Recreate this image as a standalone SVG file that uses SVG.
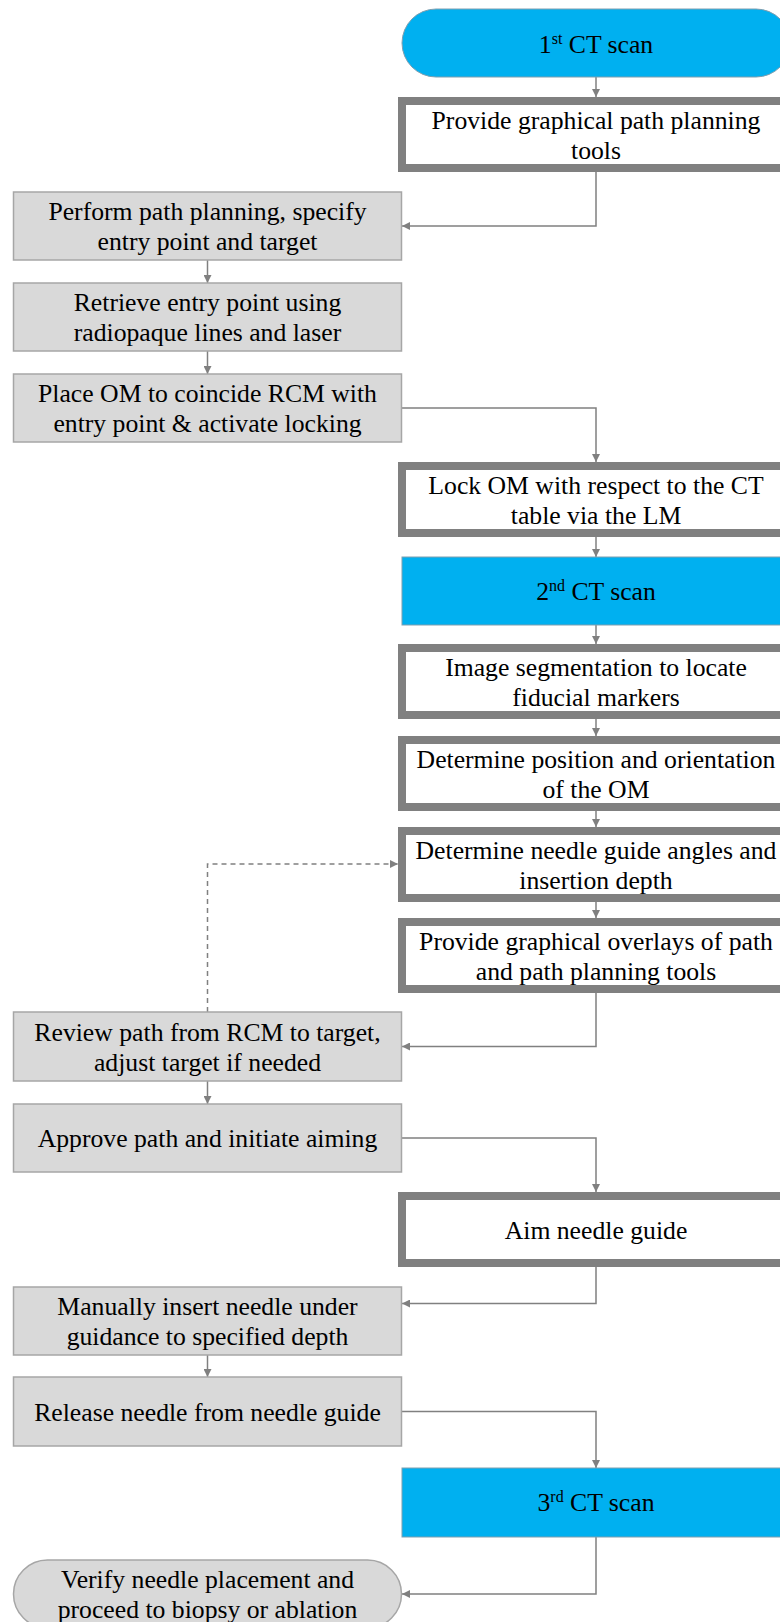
<svg xmlns="http://www.w3.org/2000/svg" width="780" height="1622" viewBox="0 0 780 1622">
<defs>
<marker id="ah" viewBox="0 0 10 10" refX="10" refY="5" markerWidth="8" markerHeight="8" markerUnits="userSpaceOnUse" orient="auto">
<path d="M0,0 L10,5 L0,10 z" fill="#808080"/>
</marker>
</defs>
<style>
text{font-family:"Liberation Serif","Times New Roman",serif;font-size:25.7px;fill:#000;text-anchor:middle}
.gray{fill:#d9d9d9;stroke:#a6a6a6;stroke-width:1.5}
.thick{fill:#fff;stroke:#808080;stroke-width:8}
.blue{fill:#00b0f0;stroke:#7f9fb0;stroke-width:1}
.c{fill:none;stroke:#808080;stroke-width:1.5;marker-end:url(#ah)}
.d{fill:none;stroke:#808080;stroke-width:1.5;stroke-dasharray:5,4;marker-end:url(#ah)}
.sup{font-size:16px}
</style>
<g id="connectors">
<path class="c" d="M596,77 V97"/>
<path class="c" d="M596,172 V226 H402"/>
<path class="c" d="M207.5,260 V283"/>
<path class="c" d="M207.5,351 V374"/>
<path class="c" d="M401.5,408 H596 V462"/>
<path class="c" d="M596,537 V557"/>
<path class="c" d="M596,625 V644"/>
<path class="c" d="M596,719 V736"/>
<path class="c" d="M596,811 V827"/>
<path class="c" d="M596,902 V918"/>
<path class="c" d="M596,993 V1046.5 H402"/>
<path class="d" d="M207.5,1012 V864 H398"/>
<path class="c" d="M207.5,1081 V1104"/>
<path class="c" d="M401.5,1138 H596 V1192"/>
<path class="c" d="M596,1267 V1303.5 H402"/>
<path class="c" d="M207.5,1355 V1377"/>
<path class="c" d="M401.5,1411.5 H596 V1468"/>
<path class="c" d="M596,1537 V1594 H402"/>
</g>
<g id="n1">
<rect class="blue" x="402" y="9" width="388" height="68" rx="34" ry="34"/>
<text x="596" y="52.5">1<tspan class="sup" dy="-9">st</tspan><tspan dy="9"> CT scan</tspan></text>
</g>
<g id="n2">
<rect class="thick" x="402" y="101" width="388" height="67"/>
<text x="596" y="128.5">Provide graphical path planning</text>
<text x="596" y="158.5">tools</text>
</g>
<g id="n3">
<rect class="gray" x="13.5" y="192" width="388" height="68"/>
<text x="207.5" y="220">Perform path planning, specify</text>
<text x="207.5" y="250">entry point and target</text>
</g>
<g id="n4">
<rect class="gray" x="13.5" y="283" width="388" height="68"/>
<text x="207.5" y="311">Retrieve entry point using</text>
<text x="207.5" y="341">radiopaque lines and laser</text>
</g>
<g id="n5">
<rect class="gray" x="13.5" y="374" width="388" height="68"/>
<text x="207.5" y="402">Place OM to coincide RCM with</text>
<text x="207.5" y="432">entry point &amp; activate locking</text>
</g>
<g id="n6">
<rect class="thick" x="402" y="466" width="388" height="67"/>
<text x="596" y="493.5">Lock OM with respect to the CT</text>
<text x="596" y="523.5">table via the LM</text>
</g>
<g id="n7">
<rect class="blue" x="402" y="557" width="388" height="68"/>
<text x="596" y="600">2<tspan class="sup" dy="-9">nd</tspan><tspan dy="9"> CT scan</tspan></text>
</g>
<g id="n8">
<rect class="thick" x="402" y="648" width="388" height="67"/>
<text x="596" y="675.5">Image segmentation to locate</text>
<text x="596" y="705.5">fiducial markers</text>
</g>
<g id="n9">
<rect class="thick" x="402" y="740" width="388" height="67"/>
<text x="596" y="767.5">Determine position and orientation</text>
<text x="596" y="797.5">of the OM</text>
</g>
<g id="n10">
<rect class="thick" x="402" y="831" width="388" height="67"/>
<text x="596" y="858.5">Determine needle guide angles and</text>
<text x="596" y="888.5">insertion depth</text>
</g>
<g id="n11">
<rect class="thick" x="402" y="922" width="388" height="67"/>
<text x="596" y="949.5">Provide graphical overlays of path</text>
<text x="596" y="979.5">and path planning tools</text>
</g>
<g id="n12">
<rect class="gray" x="13.5" y="1012" width="388" height="69"/>
<text x="207.5" y="1040.5">Review path from RCM to target,</text>
<text x="207.5" y="1070.5">adjust target if needed</text>
</g>
<g id="n13">
<rect class="gray" x="13.5" y="1104" width="388" height="68"/>
<text x="207.5" y="1147">Approve path and initiate aiming</text>
</g>
<g id="n14">
<rect class="thick" x="402" y="1196" width="388" height="67"/>
<text x="596" y="1238.5">Aim needle guide</text>
</g>
<g id="n15">
<rect class="gray" x="13.5" y="1287" width="388" height="68"/>
<text x="207.5" y="1315">Manually insert needle under</text>
<text x="207.5" y="1345">guidance to specified depth</text>
</g>
<g id="n16">
<rect class="gray" x="13.5" y="1377" width="388" height="69"/>
<text x="207.5" y="1420.5">Release needle from needle guide</text>
</g>
<g id="n17">
<rect class="blue" x="402" y="1468" width="388" height="69"/>
<text x="596" y="1511">3<tspan class="sup" dy="-9">rd</tspan><tspan dy="9"> CT scan</tspan></text>
</g>
<g id="n18">
<rect class="gray" x="13.5" y="1560" width="388" height="68" rx="34" ry="34"/>
<text x="207.5" y="1588">Verify needle placement and</text>
<text x="207.5" y="1618">proceed to biopsy or ablation</text>
</g>
</svg>
